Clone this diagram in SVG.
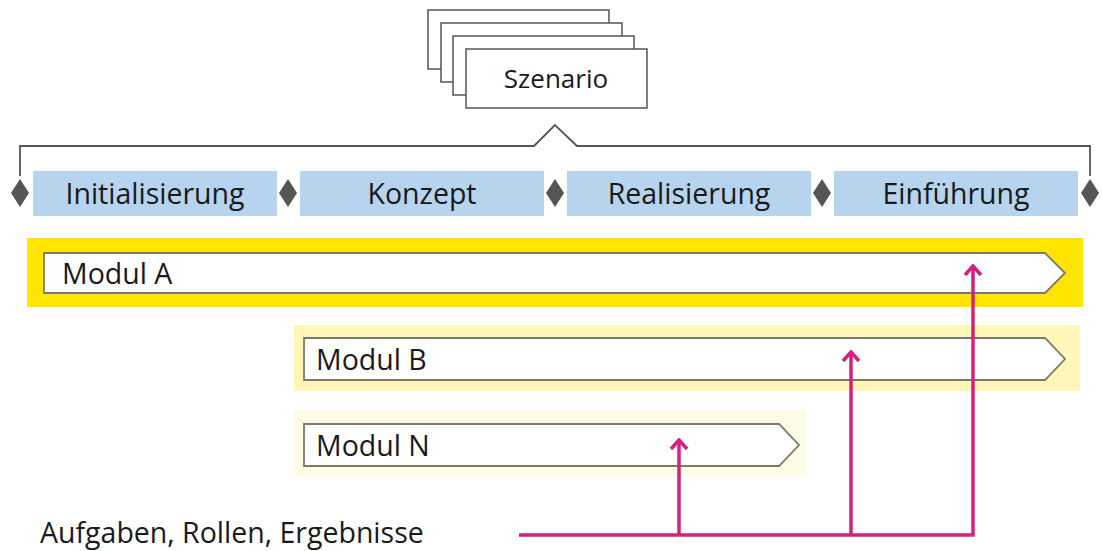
<svg xmlns="http://www.w3.org/2000/svg" width="1102" height="551" viewBox="0 0 1102 551">
<style>
text{font-family:"Open Sans","Noto Sans","DejaVu Sans",sans-serif;fill:#1a1a1a}
.card{fill:#fff;stroke:#555;stroke-width:1.5}
.phase{fill:#b6d4ee}
.dia{fill:#555}
.lbl{font-size:28.5px;text-anchor:middle}
.mod{font-size:28.5px}
.shape{fill:#fff;stroke:#7a7a6a;stroke-width:1.8}
.pink{stroke:#d61f7f;stroke-width:3.5;fill:none}
</style>
<defs>
<marker id="ah" viewBox="-14 -10 16 20" refX="0" refY="0" markerWidth="16" markerHeight="20" markerUnits="userSpaceOnUse" orient="auto">
<path d="M-9,-8 L0,0 L-9,8" fill="none" stroke="#d61f7f" stroke-width="3.5"/>
</marker>
</defs>
<rect width="1102" height="551" fill="#fff"/>
<g id="szenario">
<rect class="card" x="428" y="10" width="181" height="59"/>
<rect class="card" x="441" y="23" width="181" height="59"/>
<rect class="card" x="453" y="36" width="181" height="59"/>
<rect class="card" x="466" y="49" width="181" height="59"/>
<text x="556" y="88" class="lbl" style="font-size:26px">Szenario</text>
</g>
<g id="bracket">
<path d="M20,176 L20,146 L534,146 L555,125 L577,146 L1090,146 L1090,176" fill="none" stroke="#555" stroke-width="1.8"/>
</g>
<g id="phase-initialisierung"><rect class="phase" x="33" y="171" width="244" height="45"/><text class="lbl" x="155" y="204">Initialisierung</text></g>
<g id="phase-konzept"><rect class="phase" x="300" y="171" width="244" height="45"/><text class="lbl" x="422" y="204">Konzept</text></g>
<g id="phase-realisierung"><rect class="phase" x="567" y="171" width="244" height="45"/><text class="lbl" x="689" y="204">Realisierung</text></g>
<g id="phase-einfuehrung"><rect class="phase" x="834" y="171" width="244" height="45"/><text class="lbl" x="956" y="204">Einführung</text></g>
<g id="milestones">
<path class="dia" d="M20,179 L29,193 L20,207 L11,193 Z"/>
<path class="dia" d="M288,179 L297,193 L288,207 L279,193 Z"/>
<path class="dia" d="M555,179 L564,193 L555,207 L546,193 Z"/>
<path class="dia" d="M822,179 L831,193 L822,207 L813,193 Z"/>
<path class="dia" d="M1090,179 L1099,193 L1090,207 L1081,193 Z"/>
</g>
<g id="modul-a">
<rect x="27" y="238" width="1056" height="69" fill="#ffe500"/>
<path class="shape" d="M44,253 L1045,253 L1065,273 L1045,293 L44,293 Z"/>
<text class="mod" x="62" y="284">Modul A</text>
</g>
<g id="modul-b">
<rect x="294" y="325" width="786" height="66" fill="#fff6b8"/>
<path class="shape" d="M304,338 L1045,338 L1065,359 L1045,380 L304,380 Z"/>
<text class="mod" x="316" y="370">Modul B</text>
</g>
<g id="modul-n">
<rect x="294" y="410" width="512" height="66" fill="#fffce6"/>
<path class="shape" d="M304,424 L779,424 L799,445 L779,466 L304,466 Z"/>
<text class="mod" x="316" y="456">Modul N</text>
</g>
<g id="label-aufgaben">
<text class="mod" x="40" y="543">Aufgaben, Rollen, Ergebnisse</text>
</g>
<g id="connectors">
<path class="pink" d="M519,535 L973,535 L973,266" marker-end="url(#ah)"/>
<path class="pink" d="M851,535 L851,352" marker-end="url(#ah)"/>
<path class="pink" d="M679,535 L679,440" marker-end="url(#ah)"/>
</g>
</svg>
